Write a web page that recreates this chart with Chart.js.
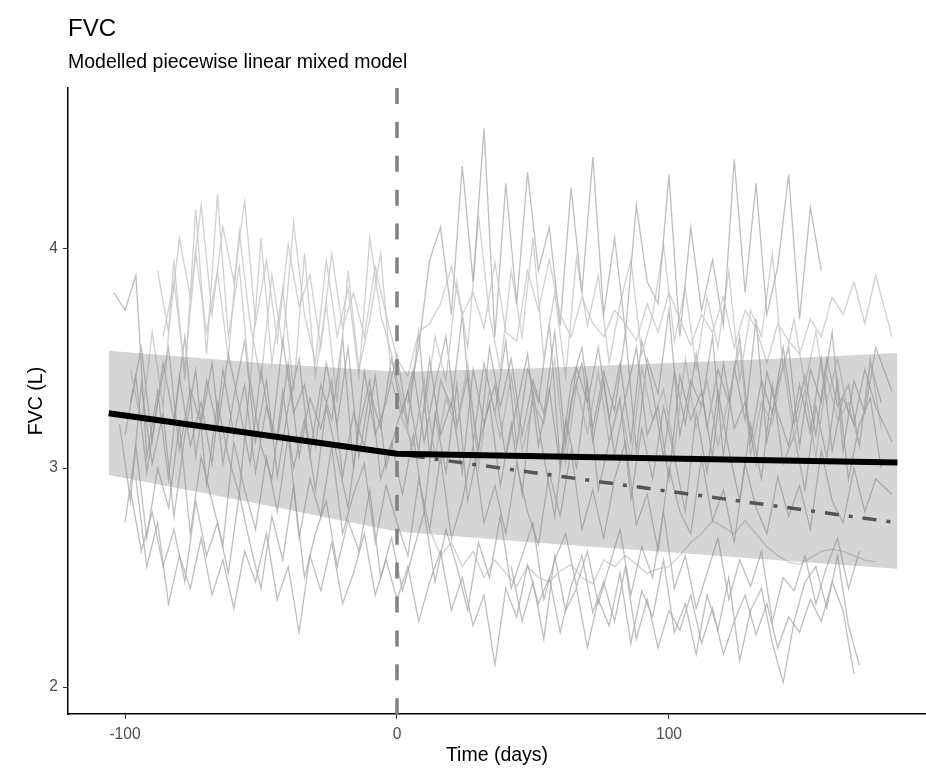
<!DOCTYPE html>
<html>
<head>
<meta charset="utf-8">
<script src="https://cdn.jsdelivr.net/npm/chart.js@4.4.1/dist/chart.umd.min.js"></script>
<style>
html,body{margin:0;padding:0;background:#fff;}
#wrap{position:relative;width:926px;height:777px;overflow:hidden;}
canvas{position:absolute;left:0;top:0;}
.t{position:absolute;left:68px;line-height:1;color:#000;font-family:"Liberation Sans",Arial,sans-serif;white-space:nowrap;}
#title{top:16px;font-size:24px;}
#subtitle{top:52px;font-size:19.5px;}
</style>
</head>
<body>
<div id="wrap">
<canvas id="c" width="926" height="777"></canvas>
<div class="t" id="title">FVC</div>
<div class="t" id="subtitle">Modelled piecewise linear mixed model</div>
</div>
<script>
// ---- tick labels ----
const X_TICKS = [-100, 0, 100];
const Y_TICKS = [2, 3, 4];

// ---- observation days (two interleaved visit grids) ----
const DAYS_A = [-104,-100,-96,-92,-88,-84,-80,-76,-72,-68,-64,-60,-56,-52,-48,-44,-40,-36,-32,-28,-24,-20,-16,-12,-8,-4,0,4,8,12,16,20,24,28,32,36,40,44,48,52,56,60,64,68,72,76,80,84,88,92,96,100,104,108,112,116,120,124,128,132,136,140,144,148,152,156,160,164,168,172,176,182];
const DAYS_B = [-102,-98,-94,-90,-86,-82,-78,-74,-70,-66,-62,-58,-54,-50,-46,-42,-38,-34,-30,-26,-22,-18,-14,-10,-6,-2,2,6,10,14,18,22,26,30,34,38,42,46,50,54,58,62,66,70,74,78,82,86,90,94,98,102,106,110,114,118,122,126,130,134,138,142,146,150,154,158,162,166,170,174,178];

// ---- individual patient FVC series (L) ----
const P01 = [3.80,3.72,3.88,3.05,3.35,2.95,3.42,3.10,3.30, 3.02,3.45,3.15,3.38,2.98,3.28,3.12,3.48,3.05, 3.32,3.18,3.40,2.96,3.25,3.10,3.42,3.00,3.20, 3.35,3.08,3.50,3.15,3.30,2.98,3.45,3.20,3.38, 3.05,3.28,3.52,3.10,3.36,3.00,3.30,3.48,3.12, 3.40,3.06,3.32,3.55,3.15,3.28,2.95,3.42,3.22, 3.35,3.05,3.48,3.18,3.30,3.02,3.44,3.25,3.10, 3.38,3.16,3.50,3.08,3.32,3.20,3.45,3.28,3.12];
const P02 = [null,null,null,null,3.90,3.62,4.05,3.78,4.20, 3.70,4.10,3.85,4.22,3.66,3.95,3.58,4.02,3.74, 3.88,3.55,3.98,3.64,3.80,3.60,3.92,3.70,3.50, 3.42,3.62,3.66,3.75,3.92,3.70,3.80,3.64,3.94, 3.62,3.58,3.90,3.72,3.95,3.70,3.60,3.78,3.66, 3.60,3.72,3.66,3.58,3.75,3.62,3.80,3.68,3.56, 3.70,3.62,3.78,3.55,3.72,3.64,3.48,3.66,3.58, 3.52,3.68,3.60,3.78,3.70,3.85,3.66,3.88,3.60];
const P03 = [null,3.45,3.20,3.62,3.28,3.95,3.40,4.18,3.52, 4.25,3.60,3.92,3.38,4.05,3.48,3.82,3.35,3.98, 3.42,3.75,3.30,3.90,3.45,3.68,3.98,3.40,3.22, 3.10,3.40,3.05,3.32,3.18,3.48,3.00,3.36,3.14, 3.42,3.08,3.30,3.20,3.50,3.02,3.38,3.16,3.44, 3.12,3.30,3.04,3.46,3.22,3.36,3.08,3.50,3.18, 3.40,3.10,3.32,3.55,3.06,3.30,3.20,3.48,3.14, 3.36,3.05,3.42,3.22,3.30,3.10,3.50,3.18];
const P04 = [null,null,null,null,null,null,null,null,null, null,null,null,null,null,null,null,null,null, null,null,null,null,null,null,null,null,null, 3.30,3.55,3.95,4.10,3.70,4.38,3.85,4.55,3.60, 4.30,3.75,4.35,3.90,4.10,3.65,4.28,3.80,4.42, 3.70,4.05,3.62,4.20,3.85,3.75,4.34,3.60,4.10, 3.72,3.95,3.65,4.41,3.80,4.30,3.70,3.92,4.34, 3.68,4.19,3.90,null,null,null,null,null,null];
const P05 = [null,null,null,null,null,null,null,null,null, null,null,null,null,null,null,null,null,null, null,null,null,null,null,null,null,null,null, null,3.25,3.60,3.40,3.85,3.55,4.15,3.70,3.45, 3.90,3.60,4.05,3.50,3.80,3.42,3.96,3.65,3.88, 3.48,3.75,3.95,3.52,3.70,4.02,3.58,3.82,3.46, 3.78,3.55,3.90,3.40,3.72,3.60,3.98,3.45,3.68, 3.38,3.62,3.30,3.50,3.25,null,null,null];
const P06 = [3.20,2.85,3.38,3.02,3.25,2.78,3.15,3.45,2.92, 3.30,3.05,2.88,3.40,3.10,2.95,3.35,3.00,3.22, 2.90,3.28,3.05,2.82,3.18,3.40,2.95,3.12,2.88, 3.15,2.80,3.25,2.98,3.38,2.85,3.10,3.30,2.92, 3.20,2.88,3.35,3.05,2.78,3.22,3.00,3.40,2.90, 3.12,3.32,2.86,3.18,2.95,3.28,3.05,2.80,3.25, 2.98,3.35,3.08,2.85,3.20,2.95,3.38,3.02,3.15, 2.90,3.28,3.05,3.40,2.95,3.20,3.32,3.00];
const P07 = [null,2.75,3.10,2.68,3.00,2.82,3.20,2.70,3.05, 2.85,2.65,3.12,2.90,2.72,3.05,2.80,3.15,2.68, 2.95,2.78,3.10,2.70,2.88,3.02,2.66,2.92,2.75, 2.60,2.95,2.72,3.05,2.68,2.85,3.10,2.75,2.92, 2.70,3.02,2.80,2.65,2.98,2.78,3.08,2.72,2.90, 2.68,2.95,3.12,2.74,2.88,2.62,3.00,2.80,2.70, 3.05,2.76,2.90,2.66,3.02,2.82,2.70,2.96,2.78, 2.92,2.72,3.08,2.85,2.75,3.00,2.80,2.95,2.88];
const P08 = [null,null,2.95,2.55,2.75,2.38,2.60,2.45,2.68, 2.42,2.58,2.36,2.62,2.48,2.70,2.40,2.55,2.25, 2.60,2.44,2.66,2.38,2.52,2.70,2.42,2.58,2.40, 2.55,2.30,2.48,2.62,2.35,2.50,2.28,2.42,2.10, 2.45,2.32,2.56,2.38,2.50,2.25,2.46,2.60,2.34, 2.48,2.30,2.55,2.22,2.40,2.18,2.35,2.26,2.42, 2.20,2.36,2.15,2.30,2.42,2.24,2.38,2.18,2.32, 2.25,2.40,2.30,2.48,2.35,2.06,null,null,null];
const P09 = [null,2.90,2.62,2.80,2.55,2.72,2.48,2.85,2.60, 2.75,2.52,2.88,2.65,2.45,2.78,2.58,2.92,2.50, 2.70,2.85,2.55,2.76,2.62,2.90,2.50,2.68,2.44, 2.62,2.80,2.48,2.72,2.55,2.35,2.66,2.50,2.78, 2.45,2.60,2.75,2.40,2.58,2.70,2.46,2.62,2.38, 2.55,2.72,2.42,2.64,2.50,2.80,2.45,2.60,2.36, 2.52,2.68,2.40,2.58,2.46,2.62,2.30,2.50,2.44, 2.60,2.38,2.55,2.68,2.45,2.62,null,null];
const P10 = [null,null,null,null,null,null,null,null,null, null,null,null,null,null,null,null,null,null, null,null,null,null,null,null,null,null,null, null,null,2.72,2.60,2.66,2.55,2.62,2.50,2.58, 2.52,2.46,2.55,2.50,2.48,2.53,2.56,2.50,2.47, 2.58,2.55,2.60,2.56,2.52,2.54,2.55,2.60,2.66, 2.70,2.76,2.73,2.70,2.76,2.70,2.64,2.60,2.57, 2.56,2.59,2.62,2.63,2.62,2.60,2.58,2.57,null];
const P11 = [null,3.30,3.55,3.12,3.48,3.22,3.60,3.05,3.40, 3.18,3.52,3.28,3.02,3.45,3.15,3.58,3.25,3.38, 3.10,3.48,3.20,3.55,3.05,3.35,3.18,3.50,3.25, 3.45,3.12,3.38,3.60,3.20,3.42,3.08,3.55,3.28, 3.50,3.15,3.40,3.25,3.62,3.10,3.46,3.30,3.55, 3.22,3.48,3.12,3.58,3.35,3.05,3.44,3.20,3.52, 3.18,3.45,3.30,3.60,3.12,3.40,3.25,3.55,3.20, 3.42,3.15,3.50,3.28,3.38,3.10,3.48,3.30];
const P12 = [null,null,null,null,null,null,null,null,null, null,null,null,null,null,null,null,null,null, null,null,null,null,null,null,null,null,null, null,null,null,null,null,null,null,null,null, 2.55,2.30,2.48,2.22,2.60,2.35,2.45,2.18,2.40, 2.28,2.52,2.20,2.44,2.32,2.58,2.25,2.38,2.15, 2.42,2.26,2.50,2.12,2.35,2.45,2.20,2.02,2.30, 2.48,2.55,2.36,2.60,2.28,2.10,null,null];
const P13 = [null,3.15,3.42,2.98,3.30,3.55,3.08,3.36,3.20, 3.48,3.02,3.32,3.58,3.12,3.40,2.96,3.28,3.50, 3.06,3.38,3.22,3.60,3.00,3.44,3.15,3.30,3.52, 3.20,3.62,3.05,3.40,3.28,3.70,3.12,3.48,3.25, 3.58,3.10,3.45,3.30,3.66,3.02,3.38,3.55,3.18, 3.44,3.26,3.62,3.08,3.50,3.34,3.72,3.15,3.40, 3.28,3.60,3.05,3.46,3.22,3.68,3.12,3.38,3.55, 3.10,3.45,3.30,3.62,3.08,3.40,3.25,3.55,3.35];
const P14 = [null,null,null,null,3.60,3.85,3.45,3.98,3.62, 3.90,3.50,4.08,3.66,3.40,3.88,3.55,4.12,3.70, 3.48,3.95,3.60,3.82,3.42,4.05,3.70,3.52,3.30, 3.05,null,null,null,null,null,null,null,null, null,null,null,null,null,null,null,null,null, null,null,null,null,null,null,null,null,null, null,null,null,null,null,null,null,null,null, null,null,null,null,null,null,null,null];

// ---- modelled fit ----
const RIBBON_DAYS  = [-106, -75, -50, -25, 0, 50, 100, 150, 184];
const RIBBON_UPPER = [3.535, 3.505, 3.48, 3.46, 3.44, 3.455, 3.48, 3.505, 3.525];
const RIBBON_LOWER = [2.968, 2.895, 2.835, 2.772, 2.71, 2.66, 2.615, 2.57, 2.54];
const FIT_DAYS = [-106, 0, 184];
const FIT_FVC  = [3.25, 3.065, 3.025];
const PROJ_DAYS = [0, 184];
const PROJ_FVC  = [3.065, 2.75];
const BREAK_DAY = 0;

// ---- assemble ----
const pts = (xs, ys) => xs.map((x, i) => ({x: x, y: ys[i]}));
const MID = 'rgba(165,165,165,0.72)';
const LIGHT = 'rgba(200,200,200,0.85)';
const patients = [
  [DAYS_A, P01, MID], [DAYS_A, P02, LIGHT], [DAYS_B, P03, LIGHT], [DAYS_A, P04, MID],
  [DAYS_B, P05, LIGHT], [DAYS_B, P06, MID], [DAYS_A, P07, MID], [DAYS_A, P08, MID],
  [DAYS_B, P09, MID], [DAYS_A, P10, LIGHT], [DAYS_B, P11, MID], [DAYS_B, P12, MID],
  [DAYS_A, P13, MID], [DAYS_B, P14, LIGHT]
];

const datasets = [];
datasets.push({data: pts(FIT_DAYS, FIT_FVC), borderColor: '#000', borderWidth: 6, order: 0, borderCapStyle: 'butt'});
datasets.push({data: pts(PROJ_DAYS, PROJ_FVC), borderColor: '#555', borderWidth: 3.5, borderDash: [4, 10, 14, 10], order: 1});
datasets.push({data: [{x: BREAK_DAY, y: 4.735}, {x: BREAK_DAY, y: 1.877}], borderColor: '#808080', borderWidth: 3.5, borderDash: [16, 17.9], order: 1.5});
datasets.push({data: pts(RIBBON_DAYS, RIBBON_UPPER), borderWidth: 0, borderColor: 'rgba(0,0,0,0)', backgroundColor: 'rgba(128,128,128,0.33)', fill: '+1', order: 2});
datasets.push({data: pts(RIBBON_DAYS, RIBBON_LOWER), borderWidth: 0, borderColor: 'rgba(0,0,0,0)', fill: false, order: 2});
patients.forEach(p => datasets.push({data: pts(p[0], p[1]), borderColor: p[2], borderWidth: 1.3, order: 5, spanGaps: false}));

Chart.defaults.font.family = '"Liberation Sans", Arial, sans-serif';

new Chart(document.getElementById('c'), {
  type: 'line',
  data: {datasets: datasets},
  options: {
    responsive: false,
    animation: false,
    devicePixelRatio: 1,
    layout: {padding: {top: 88, right: 0, left: 0, bottom: 0}},
    elements: {point: {radius: 0, hoverRadius: 0}, line: {tension: 0}},
    plugins: {legend: {display: false}, tooltip: {enabled: false}, title: {display: false}},
    events: [],
    scales: {
      x: {
        type: 'linear', min: -120.96, max: 194.5,
        afterBuildTicks: s => { s.ticks = X_TICKS.map(v => ({value: v})); },
        afterFit: s => { s.height = 63; },
        ticks: {color: '#4d4d4d', font: {size: 15.6}, padding: 6, maxRotation: 0, callback: v => String(v)},
        grid: {drawOnChartArea: false, drawTicks: true, tickLength: 5, color: '#333', lineWidth: 1},
        border: {display: true, color: '#000', width: 1.5},
        title: {display: true, text: 'Time (days)', color: '#000', font: {size: 19.5}, padding: {top: 0, bottom: 10}}
      },
      y: {
        type: 'linear', min: 1.877, max: 4.735,
        afterBuildTicks: s => { s.ticks = Y_TICKS.map(v => ({value: v})); },
        afterFit: s => { s.width = 68; },
        ticks: {color: '#4d4d4d', font: {size: 15.6}, padding: 5, callback: v => String(v)},
        grid: {drawOnChartArea: false, drawTicks: true, tickLength: 5, color: '#333', lineWidth: 1},
        border: {display: true, color: '#000', width: 1.5},
        title: {display: true, text: 'FVC (L)', color: '#000', font: {size: 19.5}, padding: {top: 25, bottom: 0}}
      }
    }
  }
});
</script>
</body>
</html>
